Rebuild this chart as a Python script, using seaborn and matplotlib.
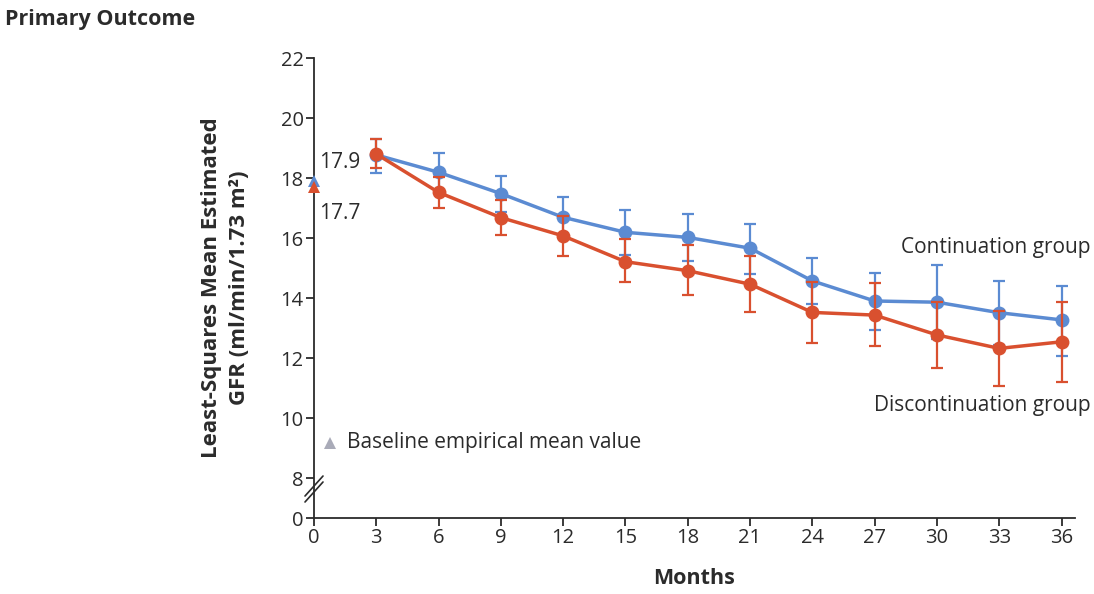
import numpy as np
import pandas as pd

import matplotlib
matplotlib.use("Agg")
import matplotlib.pyplot as plt

import seaborn as sns


months = [3, 6, 9, 12, 15, 18, 21, 24, 27, 30, 33, 36]

cont_mean = [18.77, 18.19, 17.48, 16.69, 16.19, 16.02, 15.66, 14.57, 13.90, 13.86, 13.51, 13.27]
cont_upper = [19.30, 18.82, 18.08, 17.38, 16.93, 16.80, 16.46, 15.34, 14.84, 15.10, 14.58, 14.41]
cont_lower = [18.16, 17.56, 16.86, 16.00, 15.43, 15.24, 14.80, 13.80, 12.93, 12.63, 12.44, 12.07]

disc_mean = [18.80, 17.52, 16.68, 16.07, 15.21, 14.91, 14.46, 13.52, 13.43, 12.77, 12.32, 12.54]
disc_upper = [19.29, 18.05, 17.27, 16.74, 15.96, 15.77, 15.40, 14.52, 14.49, 13.86, 13.56, 13.88]
disc_lower = [18.32, 16.99, 16.10, 15.40, 14.52, 14.10, 13.54, 12.51, 12.40, 11.68, 11.08, 11.19]

baseline_cont = 17.9
baseline_disc = 17.7

x_ticks = [0, 3, 6, 9, 12, 15, 18, 21, 24, 27, 30, 33, 36]
y_tick_labels = ["0", "8", "10", "12", "14", "16", "18", "20", "22"]

BLUE = "#5b8bd2"
RED = "#d9502f"
INK = "#2b2b2b"

sns.set_style("ticks")
plt.rcParams["font.family"] = ["Open Sans", "DejaVu Sans"]

df = pd.DataFrame({
    "Months": months * 2,
    "GFR": cont_mean + disc_mean,
    "Group": ["Continuation"] * len(months) + ["Discontinuation"] * len(months),
})

fig = plt.figure(figsize=(10.94, 5.94), dpi=100)
ax = fig.add_axes([314 / 1094, 76 / 594, 761 / 1094, 460 / 594])

# broken axis: 0 sits 40 px below 8
y_zero = 8 - 4 / 3

# error bars (drawn first, thinner)
for mean, lo, hi, col, z in [(cont_mean, cont_lower, cont_upper, BLUE, 2),
                             (disc_mean, disc_lower, disc_upper, RED, 4)]:
    mean = np.array(mean)
    yerr = [mean - np.array(lo), np.array(hi) - mean]
    ax.errorbar(months, mean, yerr=yerr, fmt="none", ecolor=col,
                elinewidth=1.6, capsize=4, capthick=1.6, zorder=z)

sns.lineplot(data=df[df["Group"] == "Continuation"], x="Months", y="GFR",
             color=BLUE, lw=2.5, marker="o", markersize=10,
             markeredgewidth=0, ax=ax, zorder=3)
sns.lineplot(data=df[df["Group"] == "Discontinuation"], x="Months", y="GFR",
             color=RED, lw=2.5, marker="o", markersize=10,
             markeredgewidth=0, ax=ax, zorder=5)

# baseline triangles
ax.plot([0], [baseline_cont], marker="^", color=BLUE, ms=9, mew=0,
        clip_on=False, zorder=6)
ax.plot([0], [baseline_disc], marker="^", color=RED, ms=9, mew=0,
        clip_on=False, zorder=7)
FS = 15
ax.text(0.25, 18.5, f"{baseline_cont}", fontsize=FS, color=INK,
        va="center", ha="left")
ax.text(0.25, 16.83, f"{baseline_disc}", fontsize=FS, color=INK,
        va="center", ha="left")

# baseline note
ax.plot([0.77], [9.17], marker="^", color="#a9abb8", ms=8, mew=0)
ax.text(1.6, 9.17, "Baseline empirical mean value", fontsize=FS,
        color=INK, va="center", ha="left")

ax.text(37.4, 15.7, "Continuation group", fontsize=FS, color=INK,
        va="center", ha="right", clip_on=False)
ax.text(37.4, 10.43, "Discontinuation group", fontsize=FS, color=INK,
        va="center", ha="right", clip_on=False)

ax.set_xlim(0, 36.65)
ax.set_ylim(y_zero, 22)
ax.set_xticks(x_ticks)
ax.set_xticklabels([str(t) for t in x_ticks])
ax.set_yticks([y_zero, 8, 10, 12, 14, 16, 18, 20, 22])
ax.set_yticklabels(y_tick_labels)

sns.despine(ax=ax)
for side in ["left", "bottom"]:
    ax.spines[side].set_color(INK)
    ax.spines[side].set_linewidth(1.3)
ax.tick_params(axis="both", colors=INK, labelcolor=INK, labelsize=14.5,
               length=5.5, width=1.3, pad=2)

ax.set_xlabel("Months", fontsize=15.5, fontweight="bold", color=INK, labelpad=14)
ax.set_ylabel("Least-Squares Mean Estimated\nGFR (ml/min/1.73 m²)",
              fontsize=16, fontweight="bold", color=INK, labelpad=22,
              linespacing=1.45)

# break marks on the y axis
tr = ax.transAxes
for dy in (0.0, 0.013):
    ax.plot([-9 / 761, 9 / 761], [(518 - 502) / 460 + dy, (518 - 482) / 460 + dy],
            transform=tr, color=INK, lw=1.2, clip_on=False, zorder=8)

fig.text(5 / 1094, 1 - 20 / 594, "Primary Outcome", fontsize=15.5,
         fontweight="bold", color=INK, va="center", ha="left")

fig.savefig("out.png", dpi=100)
